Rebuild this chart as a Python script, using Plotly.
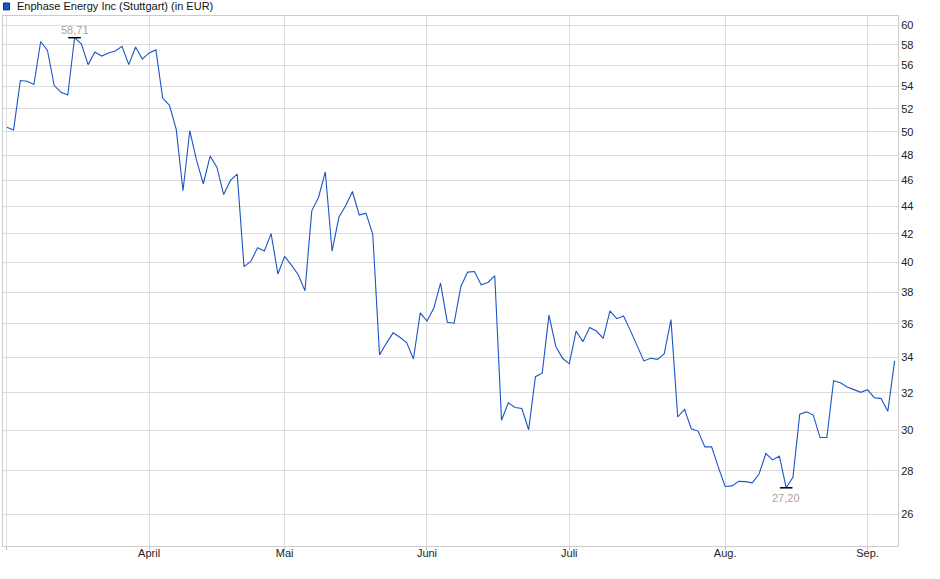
import math

import plotly.graph_objects as go
import pandas as pd

# Trading days at Stuttgart, Mar 3 - Sep 5 2025 (holidays removed)
holidays = ["2025-04-18", "2025-04-21", "2025-05-01"]
days = pd.bdate_range("2025-03-03", "2025-09-05").drop(pd.to_datetime(holidays))
dates = [d.strftime("%Y-%m-%d") for d in days]

# Closing prices in EUR
prices = [
    50.38, 50.15, 54.57, 54.50, 54.20, 58.33, 57.45, 54.10, 53.48, 53.23,
    58.71, 58.10, 56.07, 57.30, 56.90, 57.20, 57.40, 57.85, 56.07, 57.78,
    56.60, 57.20, 57.50, 52.95, 52.30, 50.20, 45.20, 50.08, 47.60, 45.74,
    47.95, 47.05, 44.90, 46.00, 46.50, 39.70, 40.05, 41.00, 40.77, 42.00,
    39.20, 40.40, 39.80, 39.15, 38.10, 43.67, 44.70, 46.67, 40.76, 43.19,
    44.05, 45.14, 43.36, 43.50, 41.95, 34.14, 34.82, 35.45, 35.18, 34.86,
    33.90, 36.68, 36.17, 36.97, 38.60, 36.10, 36.04, 38.37, 39.33, 39.37,
    38.49, 38.64, 39.09, 30.53, 31.45, 31.20, 31.15, 30.04, 32.89, 33.09,
    36.54, 34.65, 33.94, 33.62, 35.56, 34.92, 35.77, 35.56, 35.12, 36.81,
    36.32, 36.49, 35.60, 34.71, 33.79, 33.94, 33.88, 34.19, 36.26, 30.70,
    31.10, 30.09, 29.97, 29.17, 29.17, 28.17, 27.26, 27.29, 27.50, 27.49,
    27.43, 27.85, 28.84, 28.53, 28.71, 27.20, 27.69, 30.85, 30.97, 30.80,
    29.64, 29.64, 32.66, 32.55, 32.32, 32.17, 32.02, 32.17, 31.73, 31.68,
    31.00, 33.79,
]

month_starts = ["2025-03-03", "2025-04-01", "2025-05-02", "2025-06-02",
                "2025-07-01", "2025-08-01", "2025-09-01"]
month_labels = ["", "April", "Mai", "Juni", "Juli", "Aug.", "Sep."]

y_ticks = list(range(26, 61, 2))

# high / low markers
hi = prices.index(max(prices))
lo = prices.index(min(prices))

line_blue = "#1a56c6"
grid = "#dcdcdc"
font = "Liberation Sans, Arial, sans-serif"

fig = go.Figure()
fig.add_trace(go.Scatter(
    x=dates, y=prices, mode="lines",
    line=dict(color=line_blue, width=1.1),
    showlegend=False,
))
fig.add_trace(go.Scatter(
    x=[dates[hi], dates[lo]], y=[prices[hi], prices[lo]], mode="markers",
    marker=dict(symbol="line-ew", size=9, line=dict(color="black", width=1.5)),
    showlegend=False, hoverinfo="skip",
))

# value labels above the high and below the low (log axis -> log10 for y)
for idx, shift in [(hi, 8), (lo, -10)]:
    fig.add_annotation(
        x=idx, y=math.log10(prices[idx]),
        text=f"{prices[idx]:.2f}".replace(".", ","),
        showarrow=False, yshift=shift,
        font=dict(size=11, color="#b0a48f", family=font),
    )

# legend-like header
fig.add_shape(type="rect", xref="paper", yref="paper",
              x0=0.0006, x1=0.0073, y0=1.0115, y1=1.0245,
              fillcolor=line_blue, line=dict(color="#0d2a66", width=1))
fig.add_annotation(xref="paper", yref="paper", x=0.0134, y=1.0185,
                   xanchor="left", yanchor="middle", showarrow=False,
                   text="Enphase Energy Inc (Stuttgart) (in EUR)",
                   font=dict(size=11, color="#111111", family=font))

fig.update_layout(
    width=940, height=579,
    margin=dict(l=3, r=42, t=16, b=33),
    paper_bgcolor="white", plot_bgcolor="white",
    xaxis=dict(
        type="category",
        range=[-0.56, 131.5],
        tickmode="array", tickvals=month_starts, ticktext=month_labels,
        showgrid=True, gridcolor=grid, gridwidth=1,
        showline=True, linecolor="#cccccc", linewidth=1, mirror=True,
        ticks="outside", ticklen=3, tickcolor="#bbbbbb",
        ticklabelstandoff=-6,
        tickfont=dict(size=11, color="#222222", family=font),
        zeroline=False,
    ),
    yaxis=dict(
        type="log", side="right",
        range=[1.391367, 1.784833],
        tickmode="array", tickvals=y_ticks, ticktext=[str(v) for v in y_ticks],
        showgrid=True, gridcolor=grid, gridwidth=1,
        showline=True, linecolor="#cccccc", linewidth=1, mirror=True,
        ticks="", tickfont=dict(size=11, color="#222222", family=font),
        zeroline=False,
    ),
)

fig.write_html("out.html", config={"displayModeBar": False},
               post_script="document.body.style.margin='0';")
